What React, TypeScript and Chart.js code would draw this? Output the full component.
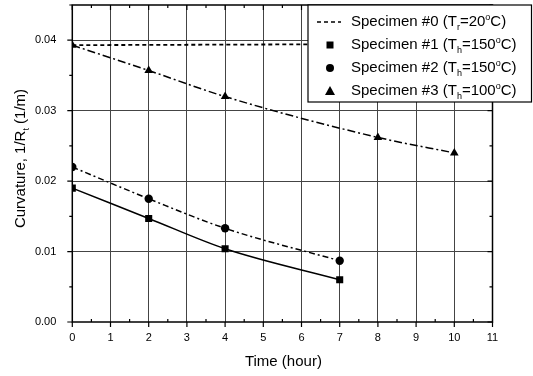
import React, { useEffect, useRef } from 'react';
import { Chart, registerables } from 'chart.js';
Chart.register(...registerables);

const xTicks = [0, 1, 2, 3, 4, 5, 6, 7, 8, 9, 10, 11];
const yTicks = [0, 0.01, 0.02, 0.03, 0.04];

const spec0Time = [0, 11];
const spec0Curv = [0.0393, 0.0395];
const spec1Time = [0, 2, 4, 7];
const spec1Curv = [0.019, 0.0147, 0.0104, 0.006];
const spec2Time = [0, 2, 4, 7];
const spec2Curv = [0.022, 0.0175, 0.0133, 0.0087];
const spec3Time = [0, 2, 4, 8, 10];
const spec3Curv = [0.0393, 0.0357, 0.032, 0.0262, 0.024];

const legendLabels = [
  [{ t: 'Specimen #0 (T' }, { t: 'r', sub: true }, { t: '=20' }, { t: 'o', sup: true }, { t: 'C)' }],
  [{ t: 'Specimen #1 (T' }, { t: 'h', sub: true }, { t: '=150' }, { t: 'o', sup: true }, { t: 'C)' }],
  [{ t: 'Specimen #2 (T' }, { t: 'h', sub: true }, { t: '=150' }, { t: 'o', sup: true }, { t: 'C)' }],
  [{ t: 'Specimen #3 (T' }, { t: 'h', sub: true }, { t: '=100' }, { t: 'o', sup: true }, { t: 'C)' }],
];
const yTitle = [{ t: 'Curvature, 1/R' }, { t: 't', sub: true }, { t: ' (1/m)' }];
const xTitle = 'Time (hour)';

const FONT = '"Liberation Sans", Arial, sans-serif';

type Run = { t: string; sub?: boolean; sup?: boolean };

function runsWidth(ctx: CanvasRenderingContext2D, runs: Run[], size: number) {
  let w = 0;
  for (const r of runs) {
    const s = r.sub || r.sup ? Math.round(size * 0.62) : size;
    ctx.font = `${s}px ${FONT}`;
    w += ctx.measureText(r.t).width;
  }
  return w;
}

function drawRuns(ctx: CanvasRenderingContext2D, runs: Run[], x: number, y: number, size: number) {
  let cx = x;
  ctx.textBaseline = 'middle';
  ctx.textAlign = 'left';
  for (const r of runs) {
    const s = r.sub || r.sup ? Math.round(size * 0.62) : size;
    ctx.font = `${s}px ${FONT}`;
    const dy = r.sub ? size * 0.35 : r.sup ? -size * 0.33 : 0;
    ctx.fillText(r.t, cx, y + dy);
    cx += ctx.measureText(r.t).width;
  }
}

const decorPlugin = {
  id: 'decor',
  afterDatasetsDraw(chart: any) {
    const ctx: CanvasRenderingContext2D = chart.ctx;
    const { left, right, top, bottom } = chart.chartArea;
    const xs = chart.scales.x;
    const ys = chart.scales.y;
    ctx.save();
    ctx.strokeStyle = '#000';
    ctx.fillStyle = '#000';
    // frame
    ctx.lineWidth = 1.5;
    ctx.strokeRect(left, top, right - left, bottom - top);
    // ticks
    ctx.lineWidth = 1.2;
    ctx.beginPath();
    for (let i = 0; i <= 22; i++) {
      const v = i * 0.5;
      const px = xs.getPixelForValue(v);
      if (i % 2 === 0) {
        ctx.moveTo(px, bottom); ctx.lineTo(px, bottom + 5);
        ctx.moveTo(px, top); ctx.lineTo(px, top + 5);
      } else {
        ctx.moveTo(px, bottom); ctx.lineTo(px, bottom - 3);
        ctx.moveTo(px, top); ctx.lineTo(px, top + 3);
      }
    }
    for (let i = 0; i <= 9; i++) {
      const v = i * 0.005;
      const py = ys.getPixelForValue(v);
      if (i % 2 === 0) {
        ctx.moveTo(left, py); ctx.lineTo(left - 5, py);
        ctx.moveTo(right, py); ctx.lineTo(right - 5, py);
      } else {
        ctx.moveTo(left, py); ctx.lineTo(left - 3, py);
        ctx.moveTo(right, py); ctx.lineTo(right - 3, py);
      }
    }
    ctx.stroke();

    // y title
    ctx.save();
    ctx.translate(21, (top + bottom) / 2 - 5);
    ctx.rotate(-Math.PI / 2);
    const wy = runsWidth(ctx, yTitle, 15);
    drawRuns(ctx, yTitle, -wy / 2, 0, 15);
    ctx.restore();

    // x title
    ctx.font = `15px ${FONT}`;
    ctx.textAlign = 'center';
    ctx.textBaseline = 'middle';
    ctx.fillText(xTitle, (left + right) / 2 + 1, 362);

    // legend
    const lx = 308, ly = top, lw = 533 - lx - 1.5, lh = 97;
    ctx.fillStyle = '#fff';
    ctx.fillRect(lx, ly, lw, lh);
    ctx.lineWidth = 1.2;
    ctx.strokeStyle = '#000';
    ctx.strokeRect(lx, ly, lw, lh);
    ctx.fillStyle = '#000';
    const rowY = [22, 45, 68, 91];
    const sx = 330;
    // row 0 dashed line
    ctx.setLineDash([4, 3]);
    ctx.lineWidth = 1.5;
    ctx.beginPath();
    ctx.moveTo(317, rowY[0]); ctx.lineTo(341, rowY[0]);
    ctx.stroke();
    ctx.setLineDash([]);
    // square
    ctx.fillRect(sx - 3.5, rowY[1] - 3.5, 7, 7);
    // circle
    ctx.beginPath();
    ctx.arc(sx, rowY[2], 4, 0, Math.PI * 2);
    ctx.fill();
    // triangle
    ctx.beginPath();
    ctx.moveTo(sx, rowY[3] - 5);
    ctx.lineTo(sx + 5, rowY[3] + 4);
    ctx.lineTo(sx - 5, rowY[3] + 4);
    ctx.closePath();
    ctx.fill();
    legendLabels.forEach((runs, i) => drawRuns(ctx, runs as Run[], 351, rowY[i], 15));
    ctx.restore();
  },
};

function pts(xs: number[], ys: number[]) {
  return xs.map((x, i) => ({ x, y: ys[i] }));
}

export default function App() {
  const ref = useRef<HTMLCanvasElement>(null);
  useEffect(() => {
    document.body.style.margin = '0';
    const canvas = ref.current!;
    const chart = new Chart(canvas, {
      type: 'scatter',
      data: {
        datasets: [
          {
            label: 'Specimen #0',
            data: pts(spec0Time, spec0Curv),
            showLine: true,
            borderColor: '#000',
            borderWidth: 1.8,
            borderDash: [4, 3],
            pointRadius: 0,
          },
          {
            label: 'Specimen #1',
            data: pts(spec1Time, spec1Curv),
            showLine: true,
            borderColor: '#000',
            backgroundColor: '#000',
            borderWidth: 1.5,
            cubicInterpolationMode: 'monotone',
            pointStyle: 'rect',
            pointRadius: 5,
            pointBorderWidth: 0,
          },
          {
            label: 'Specimen #2',
            data: pts(spec2Time, spec2Curv),
            showLine: true,
            borderColor: '#000',
            backgroundColor: '#000',
            borderWidth: 1.5,
            borderDash: [6, 3, 2, 3],
            cubicInterpolationMode: 'monotone',
            pointStyle: 'circle',
            pointRadius: 4.2,
            pointBorderWidth: 0,
          },
          {
            label: 'Specimen #3',
            data: pts(spec3Time, spec3Curv),
            showLine: true,
            borderColor: '#000',
            backgroundColor: '#000',
            borderWidth: 1.5,
            borderDash: [8, 3, 2, 3],
            cubicInterpolationMode: 'monotone',
            pointStyle: 'triangle',
            pointRadius: 5,
            pointBorderWidth: 0,
          },
        ],
      },
      options: {
        responsive: false,
        animation: false,
        layout: { padding: { top: 3.6, right: 40.5, left: 0, bottom: 0 } },
        plugins: { legend: { display: false }, tooltip: { enabled: false } },
        scales: {
          x: {
            type: 'linear',
            min: 0,
            max: 11,
            afterBuildTicks: (s: any) => { s.ticks = xTicks.map((v) => ({ value: v })); },
            afterFit: (s: any) => { s.height = 54; s.paddingLeft = 0; s.paddingRight = 0; },
            ticks: { color: '#000', font: { family: FONT, size: 11 }, padding: 9, maxRotation: 0, autoSkip: false, callback: (v: any) => String(v) },
            grid: {
              color: (c: any) => (c.tick && (c.tick.value === 0 || c.tick.value === 11) ? 'rgba(0,0,0,0)' : '#444'),
              lineWidth: 1,
              drawTicks: false,
            },
            border: { display: false },
          },
          y: {
            type: 'linear',
            min: 0,
            max: 0.045,
            afterBuildTicks: (s: any) => { s.ticks = yTicks.map((v) => ({ value: v })); },
            afterFit: (s: any) => { s.width = 72.3; s.paddingTop = 0; s.paddingBottom = 0; },
            ticks: { color: '#000', font: { family: FONT, size: 11 }, padding: 16, autoSkip: false, callback: (v: any) => Number(v).toFixed(2) },
            grid: {
              color: (c: any) => (c.tick && c.tick.value === 0 ? 'rgba(0,0,0,0)' : '#444'),
              lineWidth: 1,
              drawTicks: false,
            },
            border: { display: false },
          },
        },
      },
      plugins: [decorPlugin],
    });
    return () => chart.destroy();
  }, []);
  return (
    <div style={{ width: 533, height: 376 }}>
      <canvas ref={ref} width={533} height={376} />
    </div>
  );
}
